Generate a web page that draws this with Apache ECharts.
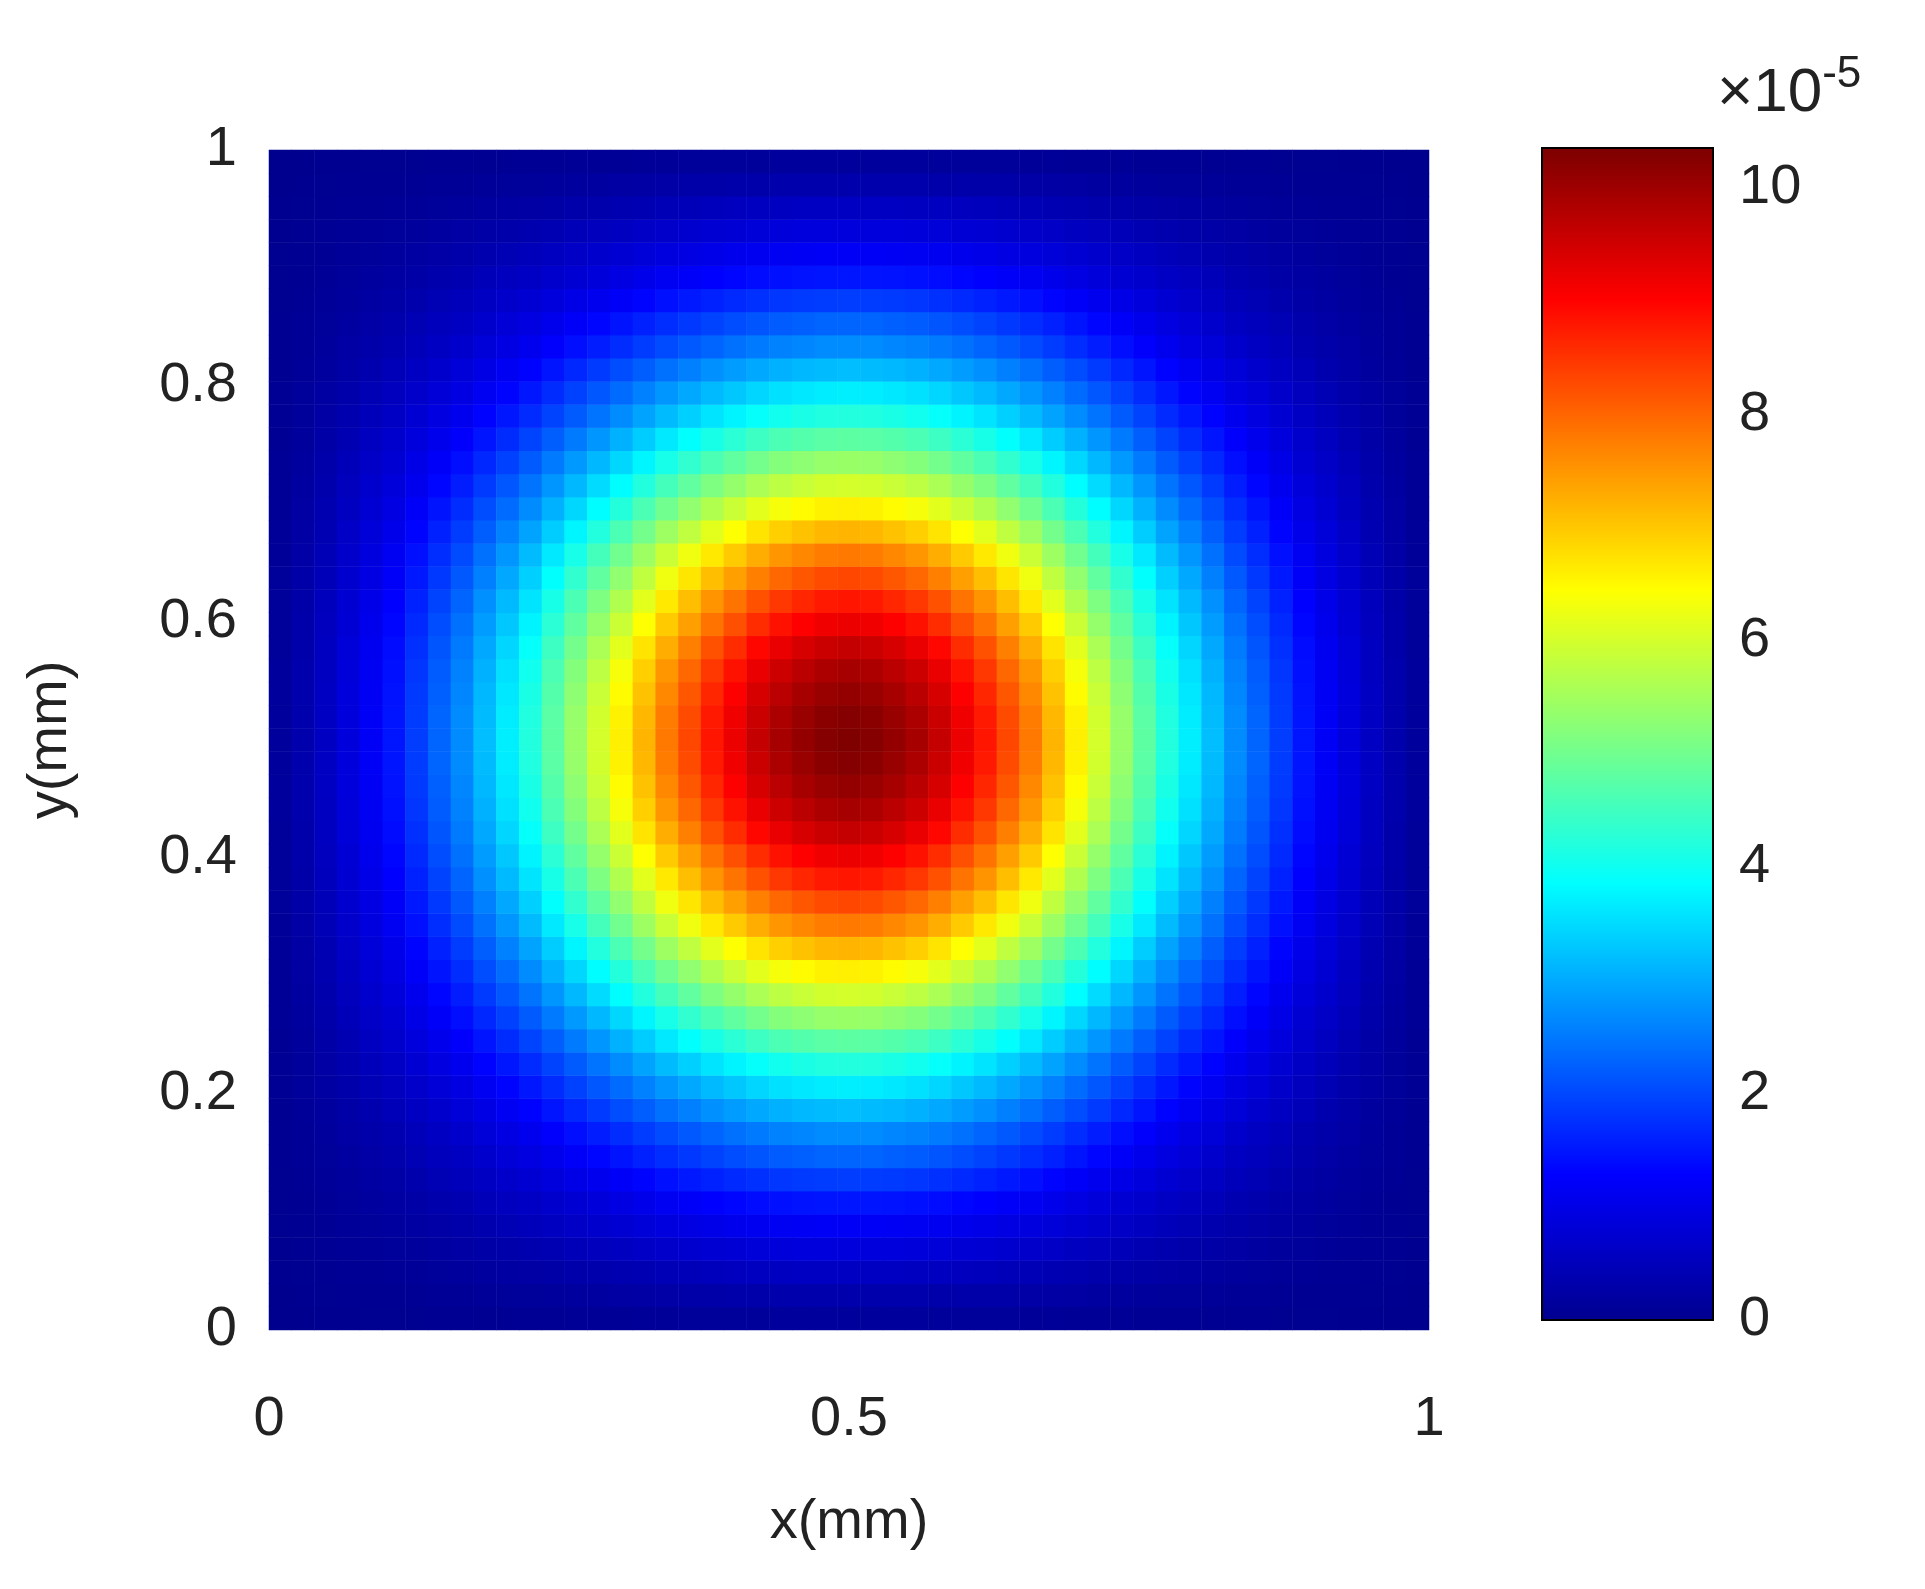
<!DOCTYPE html>
<html><head><meta charset="utf-8">
<script src="https://cdn.jsdelivr.net/npm/echarts@6/dist/echarts.min.js"></script>
<style>html,body{margin:0;padding:0;background:#fff}#c{width:1925px;height:1589px}</style>
</head><body><div id="c"></div>
<script>
// profile along x through center (values x1e-5), x = 0,0.02,...,1
const xProfile = [0.15,0.35,0.6,0.9,1.2,1.5,1.9,2.3,2.7,3.2,3.7,4.2,4.8,5.4,6.0,6.6,7.2,7.8,8.3,8.8,9.2,9.6,9.9,10.1,10.25,10.3,10.25,10.1,9.9,9.6,9.2,8.8,8.3,7.8,7.2,6.6,6.0,5.4,4.8,4.2,3.7,3.2,2.7,2.3,1.9,1.5,1.2,0.9,0.6,0.35,0.15];
// profile along y through center
const yProfile = [0.15,0.35,0.6,0.9,1.2,1.5,1.9,2.3,2.7,3.2,3.7,4.2,4.8,5.4,6.0,6.6,7.2,7.8,8.3,8.8,9.2,9.6,9.9,10.1,10.25,10.3,10.25,10.1,9.9,9.6,9.2,8.8,8.3,7.8,7.2,6.6,6.0,5.4,4.8,4.2,3.7,3.2,2.7,2.3,1.9,1.5,1.2,0.9,0.6,0.35,0.15];
const peak = 10.3;
const xTicks = [0, 0.5, 1];
const yTicks = [0, 0.2, 0.4, 0.6, 0.8, 1];
const cbarTicks = [0, 2, 4, 6, 8, 10];
const jet = ['#00008f','#0000ff','#0080ff','#00ffff','#80ff80','#ffff00','#ff8000','#ff0000','#800000'];

const cats = xProfile.map((_, i) => i);
const data = [];
for (let i = 0; i < xProfile.length; i++)
  for (let j = 0; j < yProfile.length; j++)
    data.push([i, j, xProfile[i] * yProfile[j] / peak]);

const font = 'Liberation Sans';
const chart = echarts.init(document.getElementById('c'));
chart.setOption({
  animation: false,
  textStyle: {fontFamily: font},
  title: {
    text: '×10{s|-5}', left: 1712, top: 48,
    textStyle: {fontFamily: font, fontSize: 62, fontWeight: 'normal', color: '#222',
      rich: {s: {fontSize: 44, verticalAlign: 'top', padding: [0,0,38,0], color:'#222'}}}
  },
  grid: [
    {left: 269, top: 150, width: 1160, height: 1180},
    {left: 1542, top: 148, width: 171, height: 1172, show: true, borderColor: '#000', borderWidth: 2,
     backgroundColor: {type: 'linear', x: 0, y: 1, x2: 0, y2: 0,
       colorStops: jet.map((c, i) => ({offset: i / (jet.length - 1) * 10.3 / 10.35, color: c}))}}
  ],
  xAxis: [
    {type: 'category', data: cats, gridIndex: 0, show: false},
    {type: 'value', gridIndex: 0, min: 0, max: 1, interval: 0.5, position: 'bottom',
     name: 'x(mm)', nameLocation: 'middle', nameGap: 165,
     nameTextStyle: {fontSize: 56, color: '#222', fontFamily: font},
     axisLine: {show: false}, axisTick: {show: false}, splitLine: {show: false},
     axisLabel: {fontSize: 56, color: '#222', margin: 62, fontFamily: font}},
    {type: 'value', gridIndex: 1, min: 0, max: 1, show: false}
  ],
  yAxis: [
    {type: 'category', data: cats, gridIndex: 0, show: false, position: 'right'},
    {type: 'value', gridIndex: 0, min: 0, max: 1, interval: 0.2, position: 'left', offset: 0,
     name: 'y(mm)', nameLocation: 'middle', nameGap: 190,
     nameTextStyle: {fontSize: 56, color: '#222', fontFamily: font},
     axisLine: {show: false}, axisTick: {show: false}, splitLine: {show: false},
     axisLabel: {fontSize: 56, color: '#222', margin: 32, fontFamily: font,
       formatter: v => String(+v.toFixed(1))}},
    {type: 'value', gridIndex: 1, min: 0, max: 10.35, interval: 2, position: 'right',
     axisLine: {show: false}, splitLine: {show: false}, axisTick: {show: false},
     axisLabel: {fontSize: 56, color: '#222', margin: 26, fontFamily: font,
       formatter: v => cbarTicks.includes(v) ? String(v) : ''}}
  ],
  visualMap: {show: false, min: 0, max: 10.3, seriesIndex: 0, inRange: {color: jet}},
  series: [
    {type: 'heatmap', xAxisIndex: 0, yAxisIndex: 0, data: data, progressive: 0},
    {type: 'line', xAxisIndex: 2, yAxisIndex: 2, data: [], silent: true}
  ]
});
</script></body></html>
